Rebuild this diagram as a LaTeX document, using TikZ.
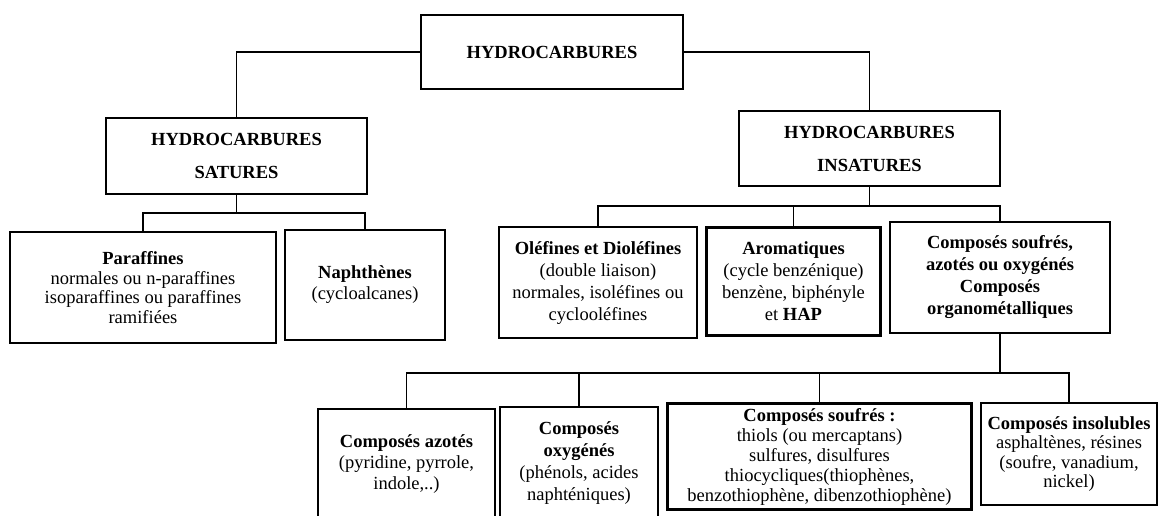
\documentclass[tikz,border=0pt]{standalone}
\usepackage{fontspec}
\setmainfont{Liberation Serif}
\begin{document}
\begin{tikzpicture}[x=1pt, y=-1pt, line width=1.1pt,
		box/.style={draw, align=center, inner sep=0pt, font=\fontsize{18.5}{21}\selectfont},
		heavybox/.style={box, line width=3pt},
		wide/.style={font=\fontsize{18.5}{33}\selectfont}]
		\useasboundingbox (0,0) rectangle (1167,515);
		\node[box, minimum width=262pt, minimum height=74pt] (hc) at (552,52) {\textbf{HYDROCARBURES}};
		\node[box, wide, minimum width=261pt, minimum height=76pt] (sat) at (236.5,156) {\textbf{HYDROCARBURES}\\\textbf{SATURES}};
		\node[box, wide, minimum width=261pt, minimum height=75pt] (insat) at (869.5,148.5) {\textbf{HYDROCARBURES}\\\textbf{INSATURES}};
		\node[box, minimum width=266pt, minimum height=111pt, font=\fontsize{18.5}{19.5}\selectfont] (par) at (143,287.5) {\textbf{Paraffines}\\normales ou n-paraffines\\isoparaffines ou paraffines\\ramifiées};
		\node[box, minimum width=160pt, minimum height=110pt] (nap) at (365,285) {\textbf{Naphthènes}\\(cycloalcanes)};
		\node[box, minimum width=198pt, minimum height=111pt, font=\fontsize{18.5}{22}\selectfont] (ole) at (598,282.5) {\textbf{Oléfines et Dioléfines}\\(double liaison)\\normales, isoléfines ou\\cyclooléfines};
		\node[heavybox, minimum width=174pt, minimum height=108pt, font=\fontsize{18.5}{22}\selectfont] (aro) at (793.5,281) {\textbf{Aromatiques}\\(cycle benzénique)\\benzène, biphényle\\et \textbf{HAP}};
		\node[box, minimum width=220pt, minimum height=111pt, font=\fontsize{18.5}{22}\selectfont\bfseries] (comp) at (1000,277.5) {Composés soufrés,\\azotés ou oxygénés\\Composés\\organométalliques};
		\node[box, minimum width=177pt, minimum height=110pt] (azo) at (406.5,464) {\textbf{Composés azotés}\\(pyridine, pyrrole,\\indole,..)};
		\node[box, minimum width=158pt, minimum height=113pt, font=\fontsize{18.5}{22}\selectfont] (oxy) at (579,463.5) {\textbf{Composés}\\\textbf{oxygénés}\\(phénols, acides\\naphténiques)};
		\node[heavybox, minimum width=304pt, minimum height=106pt, font=\fontsize{18.5}{20}\selectfont] (sou) at (819.5,456.5) {\textbf{Composés soufrés :}\\thiols (ou mercaptans)\\sulfures, disulfures\\thiocycliques(thiophènes,\\benzothiophène, dibenzothiophène)};
		\node[box, minimum width=176pt, minimum height=102pt, font=\fontsize{18.5}{19.5}\selectfont] (insol) at (1069,454) {\textbf{Composés insolubles}\\asphaltènes, résines\\(soufre, vanadium,\\nickel)};
		\draw (hc.west) -| (sat.north);
		\draw (hc.east) -| (insat.north);
		\coordinate (satbar) at (sat.south |- 0,213);
		\draw (sat.south) -- (satbar);
		\draw (par.north) |- (satbar) -| (nap.north);
		\coordinate (insbar) at (insat.south |- 0,206);
		\draw (insat.south) -- (insbar);
		\draw (ole.north) |- (insbar) -| (comp.north);
		\draw (aro.north) -- (aro.north |- insbar);
		\coordinate (compbar) at (comp.south |- 0,373);
		\draw (comp.south) -- (compbar);
		\draw (azo.north) |- (compbar) -| (insol.north);
		\draw (oxy.north) -- (oxy.north |- compbar);
		\draw (sou.north) -- (sou.north |- compbar);
	\end{tikzpicture}
\end{document}
